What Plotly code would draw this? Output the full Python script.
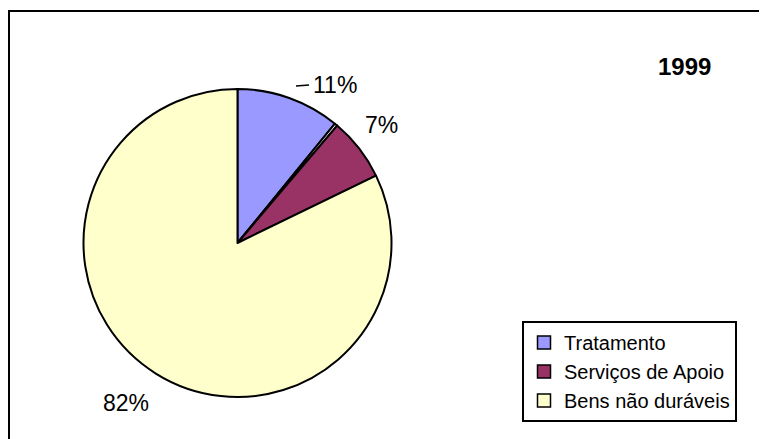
import plotly.graph_objects as go

# data
categorias = ["Tratamento", "", "Serviços de Apoio", "Bens não duráveis"]
valores = [10.9, 0.3, 6.6, 82.2]
cores = ["#9999FF", "#FFFFFF", "#993366", "#FFFFCC"]
ano = "1999"

W, H = 767, 439
OFF = 8  # page body margin added around the plot
fonte = "Arial, Liberation Sans, sans-serif"


def px(x):
    return (x - OFF) / W


def py(y):
    return 1 - (y - OFF) / H


cx, cy, r = 237.5, 243, 154  # pie centre / radius in screen px

fig = go.Figure()
fig.add_trace(go.Pie(
    labels=categorias, values=valores, sort=False, direction="clockwise",
    rotation=0, textinfo="none", hoverinfo="label+percent", showlegend=False,
    marker=dict(colors=cores, line=dict(color="black", width=2)),
    domain=dict(x=[px(cx - r), px(cx + r)], y=[py(cy + r), py(cy - r)]),
))

# legend built from dummy traces (the tiny white slice is not listed)
for nome, cor in zip(categorias, cores):
    if not nome:
        continue
    fig.add_trace(go.Scatter(
        x=[None], y=[None], mode="markers", name=nome,
        marker=dict(symbol="square", size=13, color=cor, line=dict(color="black", width=1.5)),
    ))

# percentage labels
pos_rotulos = {"Tratamento": (335, 85), "Serviços de Apoio": (381, 125), "Bens não duráveis": (126, 403)}
anns = []
for nome, v in zip(categorias, valores):
    if nome in pos_rotulos:
        x, y = pos_rotulos[nome]
        anns.append(dict(x=px(x), y=py(y), xref="paper", yref="paper", text=f"{round(v)}%",
                         xanchor="center", yanchor="middle", showarrow=False,
                         font=dict(size=23, color="black", family=fonte)))
anns.append(dict(x=px(684), y=py(67), xref="paper", yref="paper", text=f"<b>{ano}</b>",
                 xanchor="center", yanchor="middle", showarrow=False,
                 font=dict(size=24, color="black", family=fonte)))

fig.update_layout(
    width=W, height=H, margin=dict(l=0, r=0, t=0, b=0),
    paper_bgcolor="white", plot_bgcolor="white",
    font=dict(family=fonte, color="black"),
    xaxis=dict(visible=False), yaxis=dict(visible=False),
    annotations=anns,
    legend=dict(x=px(522), y=py(321), xanchor="left", yanchor="top",
                bordercolor="black", borderwidth=2, bgcolor="white",
                font=dict(size=20, family=fonte, color="black"),
                itemsizing="trace", tracegroupgap=0),
    shapes=[
        # chart frame (open to the right and bottom)
        dict(type="rect", xref="paper", yref="paper", x0=px(9), x1=1.05, y0=-0.05, y1=py(11),
             line=dict(color="black", width=2)),
        # leader line for the 11% label
        dict(type="line", xref="paper", yref="paper", x0=px(296), x1=px(309),
             y0=py(86), y1=py(85), line=dict(color="black", width=1.5)),
    ],
)

fig.write_html("out.html")
